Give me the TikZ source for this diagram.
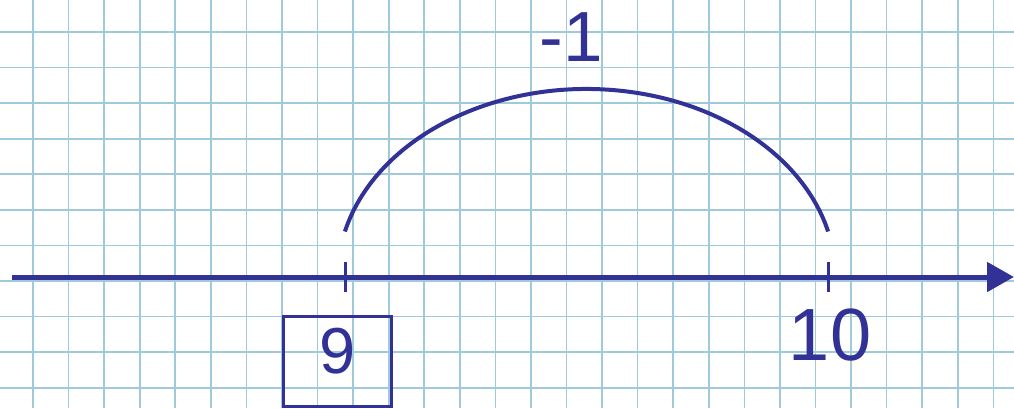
\documentclass[tikz,border=0pt]{standalone}
\usepackage{fontspec}
\setmainfont{Liberation Sans}
\usetikzlibrary{arrows.meta}
\definecolor{ink}{RGB}{50,50,150}
\definecolor{gridblue}{RGB}{160,202,220}
\tikzset{
  gridline/.style={draw=gridblue, line width=1.6pt},
  axisline/.style={draw=ink, line width=5pt, -{Triangle[length=27pt,width=29pt]}},
  tickline/.style={draw=ink, line width=3pt},
  jumparc/.style={draw=ink, line width=4pt},
  answerbox/.style={draw=ink, line width=3pt, minimum width=108pt, minimum height=90pt, inner sep=0pt},
  numlabel/.style={text=ink, inner sep=0pt}
}
\begin{document}
\begin{tikzpicture}[x=1pt,y=-1pt]
\useasboundingbox (0,0) rectangle (1014,408);
\fill[white] (0,0) rectangle (1014,408);
% grid
\foreach \k in {0,...,27} {
  \draw[gridline] ({33+35.57*\k},0) -- ({33+35.57*\k},408);
}
\foreach \k in {0,...,10} {
  \draw[gridline] (0,{32+35.57*\k}) -- (1014,{32+35.57*\k});
}
% axis
\coordinate (axstart) at (12,277);
\coordinate (axend) at (1014,277);
\draw[axisline] (axstart) -- (axend);
% ticks
\coordinate (t9top) at (345,262);
\coordinate (t9bot) at (345,292);
\coordinate (t10top) at (828,262);
\coordinate (t10bot) at (828,292);
\draw[tickline] (t9top) -- (t9bot);
\draw[tickline] (t10top) -- (t10bot);
% arc
\coordinate (arcstart) at ({586.5+249*cos(166)},{277-188*sin(166)});
\draw[jumparc] (arcstart) arc[start angle=166, end angle=14, x radius=249, y radius=-188];
% labels
\node[answerbox] (box) at (337,361) {};
\node[numlabel, font=\fontsize{65}{70}\selectfont] (nine) at (338,351.5) {9};
\node[numlabel, font=\fontsize{74}{80}\selectfont] (ten) at (830,335) {10};
\node[numlabel, font=\fontsize{71}{78}\selectfont] (minusone) at (571,37.5) {-1};
\end{tikzpicture}
\end{document}
